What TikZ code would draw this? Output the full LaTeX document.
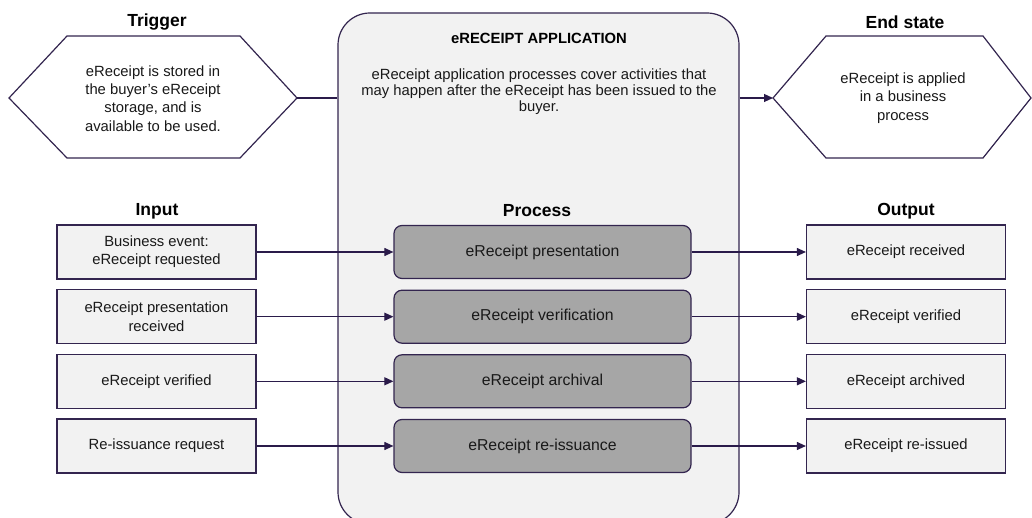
\documentclass[tikz,border=0pt]{standalone}
\usepackage{fontspec}
\setmainfont{Liberation Sans}
\usetikzlibrary{arrows.meta}

\definecolor{edge}{HTML}{33254F}
\definecolor{wire}{HTML}{2A1B4A}
\definecolor{paper}{HTML}{F2F2F2}
\definecolor{procfill}{HTML}{A6A6A6}

\tikzset{
  body/.style={font=\fontsize{14.8}{18.3}\selectfont, align=center, text=black!90},
  heading/.style={font=\fontsize{17.5}{20}\selectfont\bfseries, text=black},
  iobox/.style={draw=edge, fill=paper, line width=1.2pt, minimum width=199pt,
    minimum height=54pt, body},
  procbox/.style={draw=edge, fill=procfill, line width=1.2pt, rounded corners=8pt,
    minimum width=297pt, minimum height=53pt, body,
    font=\fontsize{15.8}{18.3}\selectfont},
  hexa/.style={draw=edge, fill=white, line width=1.2pt},
  flow/.style={draw=wire, line width=1.1pt, -{Triangle[length=9pt,width=8pt]}},
  plain/.style={draw=wire, line width=1.1pt}
}

\begin{document}
\begin{tikzpicture}[x=1pt,y=-1pt]
\useasboundingbox (0,0) rectangle (1032,518);

% application container
\node[draw=edge, fill=paper, line width=1.2pt, rounded corners=32pt,
  minimum width=401pt, minimum height=511pt] (app) at (538.5,268.5) {};
\node[font=\fontsize{14.8}{18}\selectfont\bfseries] (apptitle) at (539,38) {eRECEIPT APPLICATION};
\node[body, font=\fontsize{14.8}{16.3}\selectfont] (appdesc) at (539,91.5)
  {eReceipt application processes cover activities that\\
   may happen after the eReceipt has been issued to the\\
   buyer.};

% trigger hexagon
\coordinate (trigL) at (9,98);
\coordinate (trigR) at (297,98);
\draw[hexa] (trigL) -- (67,36) -- (240,36) -- (trigR) -- (240,158) -- (67,158) -- cycle;
\node[heading] (trigtitle) at (157,22) {Trigger};
\node[body] (trigtext) at (153,98.5)
  {eReceipt is stored in\\the buyer’s eReceipt\\storage, and is\\available to be used.};

% end state hexagon
\coordinate (endL) at (773,98);
\coordinate (endR) at (1031,98);
\draw[hexa] (endL) -- (826,36) -- (983,36) -- (endR) -- (983,158) -- (826,158) -- cycle;
\node[heading] (endtitle) at (905,22) {End state};
\node[body] (endtext) at (903,98)
  {eReceipt is applied\\in a business\\process};

\draw[plain] (trigR) -- (trigR -| app.west);
\draw[flow] (endL -| app.east) -- (endL);

% column headings
\node[heading] (inhead) at (157,211) {Input};
\node[heading] (prochead) at (537,211) {Process};
\node[heading] (outhead) at (906,211) {Output};

% inputs
\node[iobox] (in1) at (156.5,252) {Business event:\\eReceipt requested};
\node[iobox] (in2) at (156.5,316.7) {eReceipt presentation\\received};
\node[iobox] (in3) at (156.5,381.3) {eReceipt verified};
\node[iobox] (in4) at (156.5,446) {Re-issuance request};

% processes
\node[procbox] (p1) at (542.5,252) {eReceipt presentation};
\node[procbox] (p2) at (542.5,316.7) {eReceipt verification};
\node[procbox] (p3) at (542.5,381.3) {eReceipt archival};
\node[procbox] (p4) at (542.5,446) {eReceipt re-issuance};

% outputs
\node[iobox] (out1) at (906,252) {eReceipt received};
\node[iobox] (out2) at (906,316.7) {eReceipt verified};
\node[iobox] (out3) at (906,381.3) {eReceipt archived};
\node[iobox] (out4) at (906,446) {eReceipt re-issued};

\foreach \i in {1,2,3,4}{
  \draw[flow] (in\i.east) -- (p\i.west);
  \draw[flow] (p\i.east) -- (out\i.west);
}
\end{tikzpicture}
\end{document}
